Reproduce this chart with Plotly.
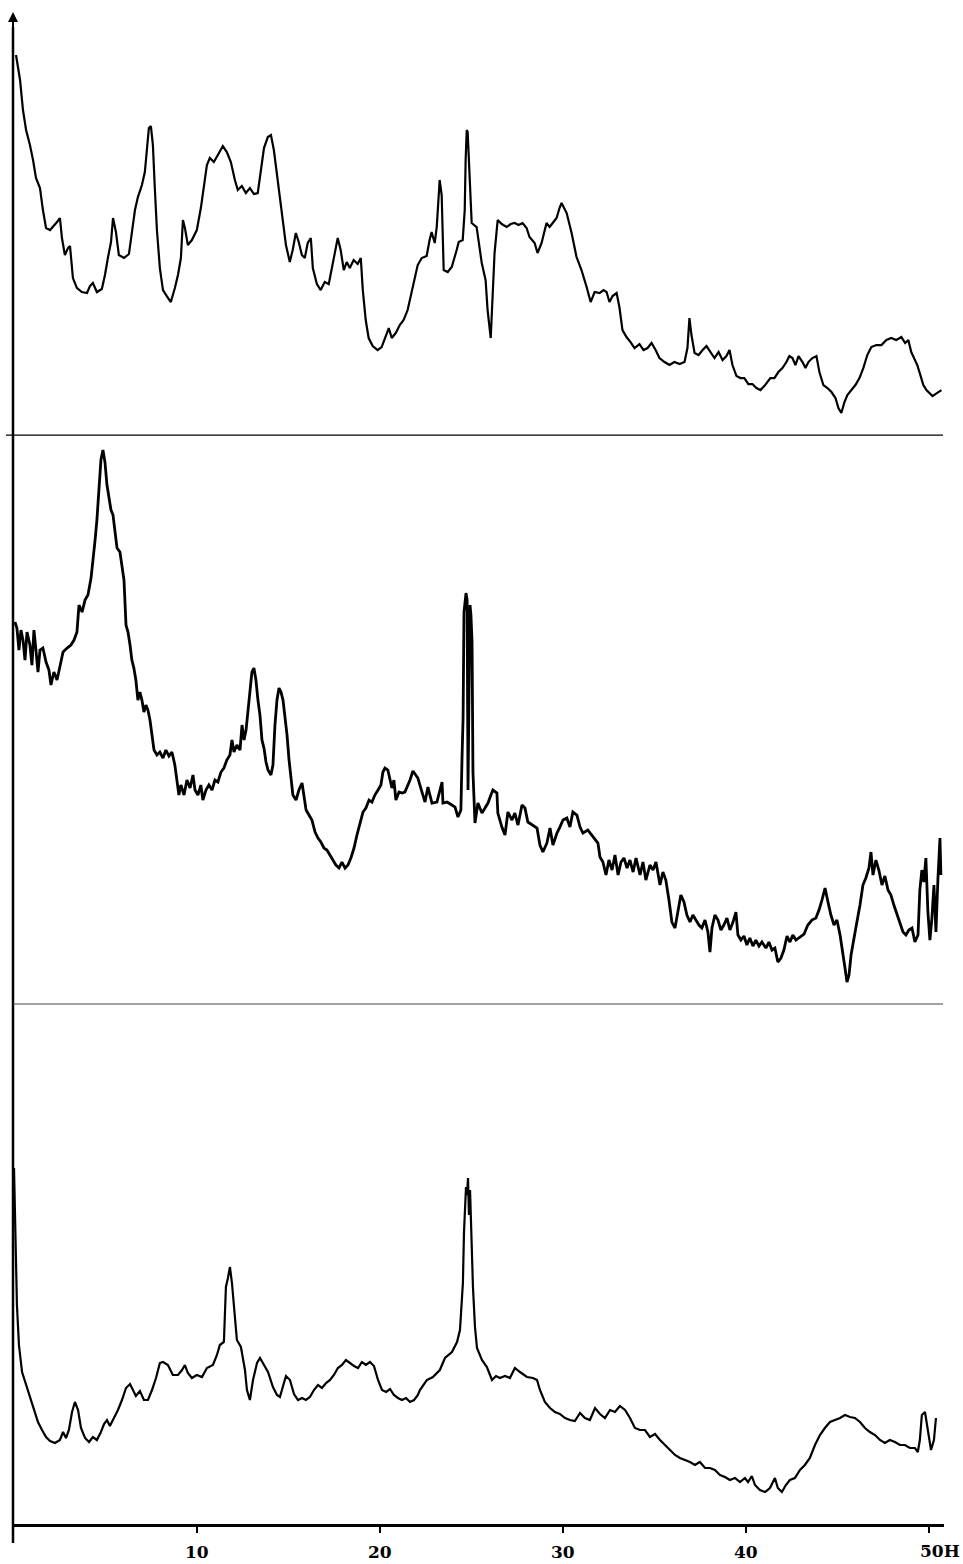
import plotly.graph_objects as go

# ---------------- data (2-theta in degrees, intensity in arbitrary units) ----------------
top_x = [0.11,0.33,0.49,0.66,0.87,1.04,1.20,1.42,1.58,1.75,1.97,2.18,2.35,2.51,2.62,2.78,2.95,3.06,3.22,3.44,
         3.71,3.99,4.15,4.31,4.53,4.80,4.97,5.13,5.30,5.41,5.57,5.73,6.01,6.28,6.44,6.61,6.77,6.99,7.15,7.26,
         7.37,7.48,7.59,7.70,7.81,7.97,8.14,8.35,8.57,8.79,8.96,9.12,9.23,9.34,9.50,9.72,9.99,10.21,10.37,10.54,
         10.70,10.92,11.14,11.41,11.63,11.85,12.07,12.23,12.45,12.67,12.89,13.11,13.32,13.49,13.66,13.87,14.04,14.20,14.42,14.64,
         14.86,15.07,15.23,15.40,15.56,15.73,15.89,16.05,16.22,16.33,16.55,16.76,16.98,17.20,17.36,17.53,17.69,17.85,18.02,18.18,
         18.35,18.56,18.78,18.95,19.06,19.22,19.38,19.60,19.87,20.09,20.31,20.48,20.64,20.86,21.08,21.29,21.51,21.68,21.84,22.06,
         22.28,22.55,22.71,22.82,22.99,23.10,23.21,23.26,23.37,23.48,23.70,23.92,24.19,24.30,24.52,24.63,24.68,24.74,24.79,24.90,
         25.01,25.28,25.44,25.56,25.77,25.88,26.05,26.16,26.26,26.43,26.65,26.92,27.14,27.36,27.57,27.79,28.01,28.17,28.45,28.61,
         28.83,29.10,29.27,29.48,29.65,29.81,29.92,30.20,30.47,30.74,31.01,31.29,31.51,31.73,32.00,32.21,32.38,32.54,32.71,32.93,
         33.09,33.25,33.47,33.69,33.91,34.18,34.40,34.62,34.84,35.06,35.27,35.55,35.82,36.09,36.37,36.64,36.80,36.91,37.02,37.19,
         37.41,37.63,37.84,38.06,38.28,38.50,38.72,38.93,39.10,39.26,39.48,39.70,39.91,40.13,40.35,40.57,40.79,41.00,41.17,41.33,
         41.55,41.77,41.99,42.21,42.37,42.54,42.70,42.87,43.09,43.25,43.41,43.63,43.85,44.01,44.23,44.45,44.67,44.89,45.05,45.21,
         45.38,45.54,45.76,45.98,46.20,46.41,46.63,46.85,47.12,47.40,47.67,47.94,48.21,48.49,48.70,48.87,49.03,49.20,49.36,49.53,
         49.69,49.86,50.02,50.19,50.35,50.52,50.68]
top_y = [380,355,325,305,290,275,257,247,225,207,205,209,213,217,197,180,187,189,157,147,
         143,142,149,152,143,146,160,177,193,217,203,180,177,181,200,225,238,250,263,287,
         307,309,290,245,205,167,145,139,133,147,160,177,215,207,190,195,205,227,250,270,
         277,273,280,289,283,273,255,245,249,242,247,241,242,265,287,298,300,285,255,223,
         190,173,185,202,193,180,177,192,197,167,151,145,153,151,165,180,197,185,165,173,
         167,175,171,177,145,115,97,89,85,88,100,107,97,102,110,115,125,138,153,170,
         177,179,195,203,192,208,240,255,240,165,163,168,185,193,195,225,275,305,303,258,
         212,208,190,172,155,125,97,138,182,215,211,208,211,212,210,212,207,198,192,182,
         192,212,208,213,217,227,232,222,202,178,165,148,133,143,142,145,143,133,139,142,
         127,105,98,93,87,91,85,87,92,85,77,73,70,73,71,73,87,117,100,82,
         80,85,89,83,77,83,75,79,85,70,59,57,57,51,51,47,45,49,53,57,
         57,63,67,73,79,77,70,79,73,67,73,77,79,63,50,47,43,37,27,22,
         33,40,45,50,57,67,80,88,90,90,95,97,95,98,92,95,83,77,70,60,
         50,45,42,39,41,43,45]

mid_x = [0.05,0.16,0.27,0.38,0.49,0.60,0.71,0.87,0.98,1.09,1.20,1.31,1.42,1.58,1.75,1.91,2.02,2.18,2.35,2.51,
         2.68,2.90,3.11,3.28,3.44,3.55,3.72,3.88,4.04,4.21,4.32,4.43,4.53,4.64,4.75,4.86,4.97,5.08,5.19,5.30,
         5.41,5.52,5.63,5.79,5.90,6.01,6.12,6.23,6.34,6.44,6.55,6.66,6.77,6.88,6.99,7.10,7.21,7.32,7.43,7.54,
         7.65,7.81,7.97,8.14,8.30,8.47,8.63,8.79,8.90,9.01,9.12,9.29,9.45,9.62,9.78,9.89,10.05,10.21,10.32,10.49,
         10.65,10.82,10.98,11.14,11.31,11.47,11.63,11.80,11.91,12.02,12.18,12.35,12.46,12.57,12.68,12.79,12.89,13.00,13.11,13.22,
         13.33,13.44,13.55,13.66,13.77,13.88,14.04,14.15,14.26,14.37,14.48,14.59,14.70,14.81,14.92,15.03,15.14,15.24,15.41,15.57,
         15.74,15.85,15.96,16.12,16.28,16.45,16.61,16.77,16.94,17.10,17.27,17.43,17.59,17.76,17.92,18.09,18.25,18.41,18.58,18.74,
         18.91,19.07,19.23,19.40,19.56,19.72,19.89,20.05,20.16,20.27,20.43,20.54,20.65,20.76,20.87,21.04,21.20,21.36,21.53,21.64,
         21.80,21.96,22.07,22.18,22.29,22.46,22.62,22.84,23.11,23.28,23.39,23.44,23.66,23.93,24.10,24.26,24.42,24.48,24.54,24.59,
         24.65,24.70,24.76,24.81,24.86,24.92,24.97,25.03,25.08,25.19,25.35,25.57,25.74,25.90,26.06,26.17,26.39,26.44,26.66,26.83,
         26.99,27.21,27.37,27.54,27.76,27.92,28.08,28.36,28.58,28.74,28.90,29.12,29.29,29.45,29.67,29.83,30.00,30.21,30.38,30.54,
         30.76,30.93,31.09,31.36,31.64,31.91,32.02,32.18,32.35,32.51,32.68,32.84,33.01,33.17,33.33,33.50,33.66,33.83,33.99,34.21,
         34.37,34.53,34.75,34.92,35.08,35.30,35.46,35.62,35.79,35.95,36.12,36.28,36.44,36.61,36.77,36.94,37.10,37.26,37.43,37.59,
         37.76,37.92,38.03,38.14,38.30,38.47,38.63,38.79,38.96,39.12,39.29,39.45,39.56,39.72,39.89,40.05,40.21,40.38,40.54,40.71,
         40.87,41.09,41.25,41.42,41.58,41.74,41.91,42.07,42.24,42.40,42.56,42.73,42.95,43.17,43.38,43.60,43.82,43.99,44.15,44.32,
         44.48,44.64,44.81,44.97,45.14,45.30,45.41,45.52,45.63,45.74,45.90,46.06,46.23,46.39,46.55,46.72,46.83,46.94,47.10,47.26,
         47.43,47.59,47.76,47.92,48.08,48.25,48.41,48.58,48.74,48.90,49.07,49.23,49.40,49.50,49.61,49.72,49.83,49.94,50.05,50.16,
         50.27,50.38,50.49,50.60,50.65]
mid_y = [382,376,354,374,364,344,372,359,339,374,354,332,354,356,342,334,319,332,324,339,
         352,356,359,364,372,399,392,404,409,426,449,464,484,514,544,554,542,519,504,494,
         489,474,456,452,439,424,379,372,359,344,336,324,304,312,304,292,299,294,284,269,
         254,249,252,246,254,248,252,239,226,209,219,209,224,216,229,214,209,219,204,214,
         219,214,224,222,232,236,244,249,264,252,259,254,279,264,274,296,314,332,336,324,
         304,289,264,256,242,234,229,239,279,304,316,312,304,289,269,244,224,209,204,214,
         221,209,194,189,184,172,166,162,156,154,149,144,139,136,142,136,139,146,156,169,
         182,192,196,204,202,209,214,219,232,236,234,226,216,224,204,212,211,212,219,224,
         233,229,226,219,212,202,217,201,202,214,222,201,202,199,197,187,194,244,286,392,
         404,411,404,214,304,399,389,362,232,181,201,191,196,201,209,214,211,191,177,169,
         192,184,191,179,199,196,182,179,176,159,152,161,176,159,171,177,184,186,177,192,
         189,177,171,174,167,161,147,142,129,144,134,149,129,142,146,136,144,132,146,129,
         142,124,139,134,142,119,132,124,104,82,76,92,109,102,89,82,89,84,79,76,
         84,72,52,76,89,84,74,79,86,74,82,92,69,64,68,59,66,58,64,58,
         62,56,62,54,56,42,46,54,68,62,69,64,67,70,79,84,86,94,104,116,
         102,89,79,84,69,52,36,22,29,49,64,82,99,119,126,136,152,129,144,134,
         119,128,114,109,99,89,82,72,69,74,76,62,69,114,134,122,146,92,64,86,
         119,72,126,166,129]

bot_x = [0.00,0.05,0.11,0.16,0.27,0.44,0.66,0.87,1.09,1.31,1.53,1.75,1.97,2.24,2.51,2.68,2.84,3.00,3.17,3.33,
         3.50,3.66,3.88,4.10,4.31,4.53,4.75,4.92,5.08,5.24,5.46,5.68,5.90,6.12,6.34,6.50,6.66,6.88,7.10,7.32,
         7.54,7.76,7.97,8.14,8.41,8.68,8.96,9.18,9.34,9.50,9.72,9.99,10.27,10.54,10.87,11.09,11.25,11.47,11.58,11.69,
         11.80,11.91,12.02,12.18,12.40,12.62,12.73,12.89,13.06,13.28,13.44,13.71,13.88,14.15,14.37,14.53,14.70,14.86,15.08,15.30,
         15.52,15.74,15.95,16.17,16.39,16.61,16.83,17.05,17.27,17.48,17.70,17.92,18.14,18.36,18.58,18.80,19.01,19.23,19.45,19.67,
         19.89,20.11,20.33,20.55,20.76,20.98,21.20,21.42,21.64,21.86,22.07,22.18,22.56,22.89,23.27,23.55,23.93,24.21,24.37,24.53,
         24.59,24.70,24.75,24.81,24.86,24.92,24.97,25.03,25.08,25.19,25.30,25.57,25.84,26.12,26.34,26.55,26.83,27.10,27.37,27.65,
         28.03,28.36,28.58,28.74,29.01,29.29,29.56,29.83,30.11,30.38,30.65,30.93,31.20,31.47,31.75,32.02,32.29,32.57,32.84,33.11,
         33.39,33.66,33.93,34.21,34.48,34.75,35.03,35.30,35.57,35.85,36.12,36.39,36.66,36.94,37.21,37.48,37.76,38.03,38.30,38.58,
         38.85,39.12,39.40,39.67,39.94,40.11,40.32,40.49,40.76,41.04,41.31,41.58,41.74,41.96,42.18,42.40,42.67,42.95,43.22,43.49,
         43.77,44.04,44.31,44.59,44.86,45.14,45.41,45.68,45.95,46.23,46.50,46.77,47.05,47.32,47.59,47.86,48.14,48.41,48.68,48.96,
         49.23,49.39,49.50,49.61,49.78,49.94,50.11,50.27,50.38]
bot_y = [356,324,262,219,179,152,139,129,114,102,94,87,83,81,84,92,86,94,112,122,
         114,96,86,82,87,84,92,100,104,98,106,114,124,136,140,134,128,133,124,124,
         134,146,161,162,159,149,149,154,159,151,146,149,147,156,159,169,179,182,237,246,
         257,241,217,184,177,154,134,124,144,161,166,157,152,137,129,127,139,148,144,130,
         124,126,124,127,134,139,136,141,144,149,156,159,164,161,158,156,162,159,162,158,
         144,134,132,135,129,126,124,126,122,124,129,134,144,147,154,166,172,182,194,241,
         292,337,329,346,309,334,299,276,237,197,176,164,157,144,148,146,148,146,156,152,
         147,146,144,134,122,116,112,110,106,104,103,111,106,104,116,110,106,114,112,118,
         114,106,96,94,94,87,90,84,79,74,69,66,64,62,59,62,56,56,54,49,
         47,44,46,42,46,42,48,39,34,32,36,46,36,32,39,44,46,54,59,66,
         79,89,96,102,104,106,109,107,106,102,96,92,89,84,81,84,82,79,79,76,
         76,72,84,109,112,92,74,84,106]

tick_vals = [10, 20, 30, 40, 50]
tick_text = ["10", "20", "30", "40", "50H"]

# ---------------- figure ----------------
fig = go.Figure()
fig.add_trace(go.Scatter(x=bot_x, y=bot_y, mode="lines", xaxis="x", yaxis="y",
                         line=dict(color="black", width=2.2), hoverinfo="skip"))
fig.add_trace(go.Scatter(x=mid_x, y=mid_y, mode="lines", xaxis="x", yaxis="y2",
                         line=dict(color="black", width=2.8), hoverinfo="skip"))
fig.add_trace(go.Scatter(x=top_x, y=top_y, mode="lines", xaxis="x", yaxis="y3",
                         line=dict(color="black", width=2.2), hoverinfo="skip"))

d1, d2 = 0.3439, 0.7202
fig.update_layout(
    width=963, height=1564,
    margin=dict(l=13, r=19, t=12, b=40),
    paper_bgcolor="white", plot_bgcolor="white",
    showlegend=False,
    xaxis=dict(range=[-0.055, 50.82], anchor="y", showline=True, linecolor="black", linewidth=3,
               ticks="outside", ticklen=6, tickwidth=1.5, tickcolor="black",
               tickvals=tick_vals, showticklabels=False, showgrid=False, zeroline=False),
    yaxis=dict(domain=[0, d1], range=[0, 520], visible=False),
    yaxis2=dict(domain=[d1, d2], range=[0, 569], visible=False),
    yaxis3=dict(domain=[d2, 1], range=[0, 423], visible=False),
)

shapes = [
    dict(type="line", xref="paper", yref="paper", x0=0, x1=0, y0=-0.0126, y1=0.99,
         line=dict(color="black", width=2.5)),
    dict(type="line", xref="paper", yref="paper", x0=-0.0075, x1=0.9989, y0=d2, y1=d2,
         line=dict(color="black", width=1.2)),
    dict(type="line", xref="paper", yref="paper", x0=0, x1=0.9989, y0=d1, y1=d1,
         line=dict(color="#444444", width=1.2)),
]
fig.update_layout(shapes=shapes)

annotations = [dict(x=0, y=1, xref="paper", yref="paper", ax=0, ay=25, text="",
                    showarrow=True, arrowhead=2, arrowsize=1, arrowwidth=2, arrowcolor="black")]
for v, t in zip(tick_vals, tick_text):
    if t.endswith("H"):
        annotations.append(dict(x=v, y=0, xref="x", yref="paper", text="<b>%s</b>" % t,
                                showarrow=False, xanchor="left", xshift=-11, yanchor="middle", yshift=-27,
                                font=dict(family="DejaVu Serif", size=17, color="black")))
    else:
        annotations.append(dict(x=v, y=0, xref="x", yref="paper", text="<b>%s</b>" % t,
                                showarrow=False, xanchor="center", yanchor="middle", yshift=-28,
                                font=dict(family="DejaVu Serif", size=17, color="black")))
fig.update_layout(annotations=annotations)

fig.write_html("out.html", config={"displayModeBar": False},
               post_script="document.body.style.margin='0';document.body.style.padding='0';")
